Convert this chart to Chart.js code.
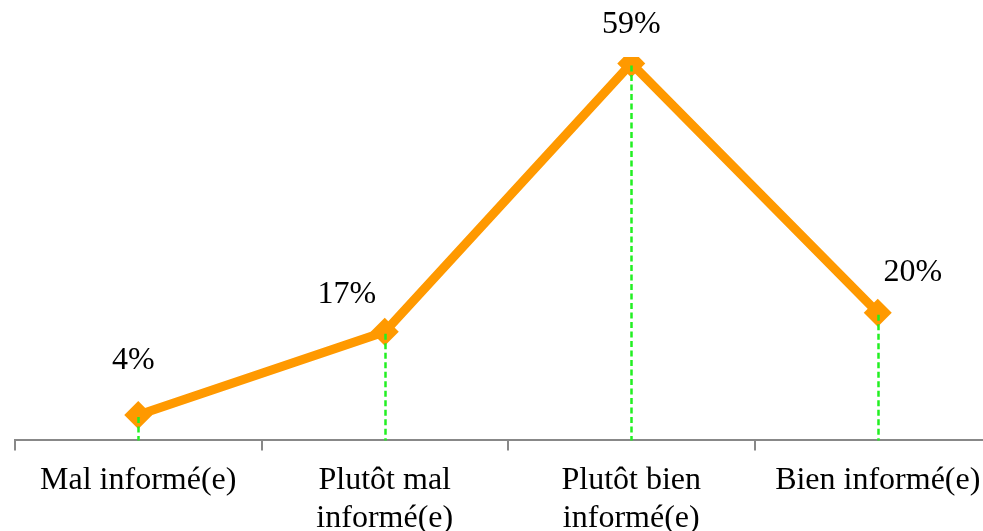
<!DOCTYPE html>
<html>
<head>
<meta charset="utf-8">
<script src="https://cdn.jsdelivr.net/npm/chart.js@4/dist/chart.umd.min.js"></script>
<style>
html,body{margin:0;padding:0;background:#fff;overflow:hidden;}
#wrap{position:relative;width:1016px;height:548px;}
</style>
</head>
<body>
<div id="wrap"><canvas id="lineChart"></canvas></div>
<script>
const categories = [["Mal informé(e)"], ["Plutôt mal", "informé(e)"], ["Plutôt bien", "informé(e)"], ["Bien informé(e)"]];
const values = [4, 17, 59, 20];
const valueLabels = ["4%", "17%", "59%", "20%"];

// where each value label sits relative to its point (moved by hand in the original)
const labelOffsets = [[-5, -54], [-38, -37], [0, -39], [35, -40]];

const dropLines = {
  id: "dropLines",
  afterDatasetsDraw(chart){
    const ctx = chart.ctx;
    const bottom = chart.chartArea.bottom;
    const pts = chart.getDatasetMeta(0).data;
    ctx.save();
    ctx.strokeStyle = "#22f022";
    ctx.lineWidth = 2.5;
    ctx.setLineDash([6, 3.5]);
    pts.forEach(p => {
      ctx.beginPath();
      ctx.moveTo(Math.round(p.x) + 0.5, p.y + 2);
      ctx.lineTo(Math.round(p.x) + 0.5, bottom);
      ctx.stroke();
    });
    ctx.restore();
  }
};

const pointLabels = {
  id: "pointLabels",
  afterDraw(chart){
    const ctx = chart.ctx;
    const pts = chart.getDatasetMeta(0).data;
    ctx.save();
    ctx.font = "32px 'Liberation Serif', 'Times New Roman', serif";
    ctx.fillStyle = "#000";
    ctx.textAlign = "center";
    ctx.textBaseline = "middle";
    pts.forEach((p, i) => {
      ctx.fillText(valueLabels[i], p.x + labelOffsets[i][0], p.y + labelOffsets[i][1]);
    });
    ctx.restore();
  }
};

new Chart(document.getElementById("lineChart"), {
  type: "line",
  data: {
    labels: categories,
    datasets: [{
      data: values,
      borderColor: "#ff9900",
      backgroundColor: "#ff9900",
      borderWidth: 9,
      pointStyle: "rectRot",
      pointRadius: 14,
      pointHoverRadius: 14,
      pointBorderWidth: 0,
      tension: 0
    }]
  },
  options: {
    responsive: true,
    maintainAspectRatio: false,
    animation: false,
    layout: { padding: { left: 15, right: 15, top: 57, bottom: 0 } },
    plugins: { legend: { display: false }, tooltip: { enabled: false } },
    scales: {
      x: {
        offset: true,
        border: { color: "#888", width: 2 },
        grid: { offset: true, drawOnChartArea: false, drawTicks: true, tickLength: 10, color: "#888", lineWidth: 2 },
        ticks: {
          color: "#000",
          padding: 11,
          maxRotation: 0,
          autoSkip: false,
          font: { family: "'Liberation Serif', 'Times New Roman', serif", size: 32, lineHeight: 1.18 }
        }
      },
      y: {
        display: false,
        min: 0,
        max: 60
      }
    }
  },
  plugins: [dropLines, pointLabels]
});
</script>
</body>
</html>
